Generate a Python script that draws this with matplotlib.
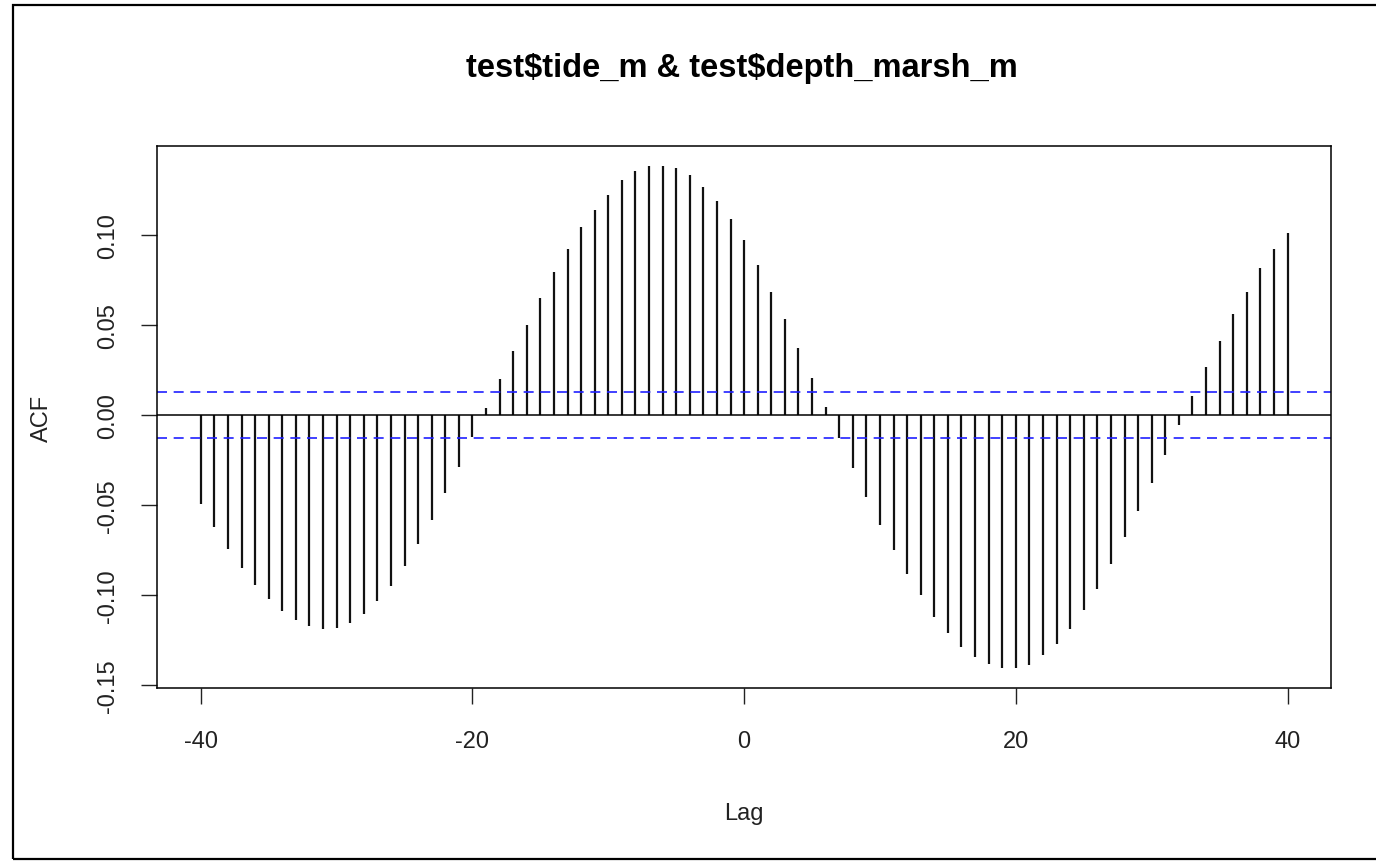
import matplotlib.pyplot as plt
import numpy as np
from matplotlib.patches import Rectangle

plt.rcParams["font.family"] = ["Liberation Sans", "DejaVu Sans"]

# cross-correlation values, lag -40 .. 40
lags = np.arange(-40, 41)
acf = [
    -0.0494, -0.0620, -0.0741, -0.0848, -0.0944, -0.1022, -0.1089, -0.1139,
    -0.1170, -0.1189, -0.1180, -0.1152, -0.1102, -0.1031, -0.0948, -0.0837,
    -0.0718, -0.0583, -0.0435, -0.0287, -0.0124,
    0.0041, 0.0200, 0.0356, 0.0500, 0.0648, 0.0793, 0.0922, 0.1041, 0.1139,
    0.1222, 0.1302, 0.1352, 0.1380, 0.1380, 0.1370, 0.1333, 0.1263, 0.1185,
    0.1089, 0.0969, 0.0833, 0.0685, 0.0532, 0.0374, 0.0207, 0.0042,
    -0.0126, -0.0296, -0.0454, -0.0611, -0.0750, -0.0883, -0.1000, -0.1120,
    -0.1207, -0.1287, -0.1343, -0.1383, -0.1402, -0.1402, -0.1385, -0.1333,
    -0.1269, -0.1185, -0.1080, -0.0963, -0.0824, -0.0676, -0.0533, -0.0376,
    -0.0219, -0.0054,
    0.0108, 0.0265, 0.0413, 0.0559, 0.0685, 0.0815, 0.0922, 0.1011,
]
conf_bound = 0.0128
title = "test$tide_m & test$depth_marsh_m"
x_ticks = [-40, -20, 0, 20, 40]
y_ticks = [-0.15, -0.10, -0.05, 0.00, 0.05, 0.10]

fig = plt.figure(figsize=(13.76, 8.62), dpi=100)
fig.patches.append(Rectangle((13 / 1376, 2 / 862), 1.2, 854 / 862,
                             transform=fig.transFigure, fill=False,
                             edgecolor="black", linewidth=1.6))
ax = fig.add_axes([0.1143, 0.2010, 0.8530, 0.6281])

ax.vlines(lags, 0, acf, color="#111111", linewidth=1.6)
ax.axhline(0, color="black", linewidth=1.1)
for b in (conf_bound, -conf_bound):
    ax.axhline(b, color="#2020ff", linewidth=1.2, linestyle=(0, (6, 4)))

ax.set_xlim(-43.2, 43.2)
ax.set_ylim(-0.1513, 0.1491)
ax.set_xticks(x_ticks)
ax.set_xticklabels([str(t) for t in x_ticks])
ax.set_yticks(y_ticks)
ax.set_yticklabels([f"{t:.2f}" for t in y_ticks], rotation=90, va="center")
ax.tick_params(length=11.5, width=1, labelsize=17, colors="#222222")
ax.tick_params(axis="x", pad=19)
ax.tick_params(axis="y", pad=16)
for s in ax.spines.values():
    s.set_linewidth(1.1)

ax.set_xlabel("Lag", fontsize=17, labelpad=36, color="#222222")
ax.set_ylabel("ACF", fontsize=17, labelpad=32, color="#222222")
fig.text(742 / 1376, 1 - 69 / 862, title, ha="center", va="center",
         fontsize=23.5, fontweight="bold", parse_math=False)

fig.savefig("out.png", dpi=100)
